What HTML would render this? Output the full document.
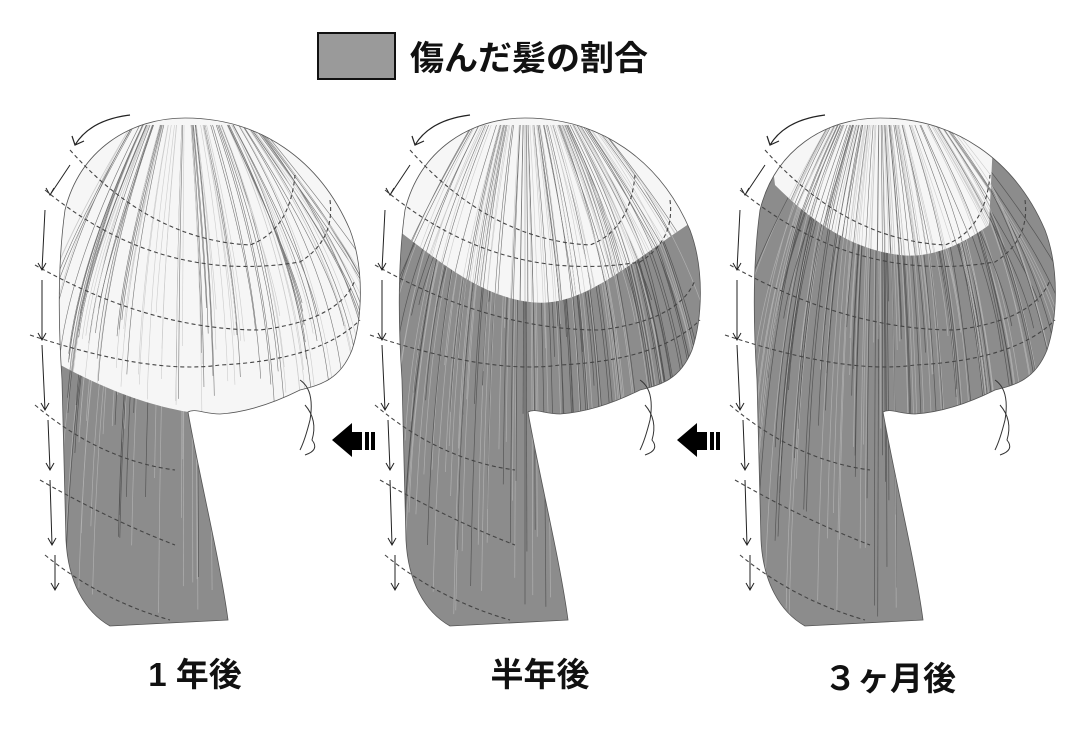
<!DOCTYPE html>
<html><head><meta charset="utf-8"><style>
html,body{margin:0;padding:0;background:#fff;}
body{width:1079px;height:743px;overflow:hidden;}
text{font-family:"Liberation Sans","Noto Sans CJK JP",sans-serif;font-weight:bold;}
</style></head><body>
<svg id="s" width="1079" height="743" viewBox="0 0 1079 743" xmlns="http://www.w3.org/2000/svg">
<defs>
<clipPath id="hc"><path id="hp" d="M65,210 C80,150 130,118 185,118 C260,118 320,160 350,230 C365,270 362,320 352,350 C340,380 320,385 300,390 C280,400 250,412 220,414 C205,414 195,408 188,412 C200,480 220,560 228,620 L110,626 C85,612 68,582 66,540 L62,380 C58,320 58,260 65,210 Z"/></clipPath>
<clipPath id="w1"><path d="M40,100 L380,100 L380,420 L220,416 C170,412 120,398 55,362 Z"/></clipPath>
<clipPath id="w2"><path d="M40,100 L380,100 L380,205 C300,250 250,310 190,302 C140,296 100,262 55,228 Z"/></clipPath>
<clipPath id="w3"><path d="M70,100 L300,100 L294,225 C260,250 230,258 205,255 C160,250 120,225 80,185 Z"/></clipPath>
</defs>
<rect x="318" y="33" width="77" height="46" fill="#9a9a9a" stroke="#111" stroke-width="2"/>
<text x="410" y="70" font-size="34" fill="#111">傷んだ髪の割合</text>
<g id="heads"></g>
<g fill="#000">
<polygon points="332,440 352,423 352,432 362,432 362,450 352,450 352,457"/>
<rect x="365" y="432" width="4" height="18"/><rect x="371" y="432" width="4" height="18"/>
<polygon points="677,440 697,423 697,432 707,432 707,450 697,450 697,457"/>
<rect x="710" y="432" width="4" height="18"/><rect x="716" y="432" width="4" height="18"/>
</g>
<text x="195" y="686" font-size="33" text-anchor="middle" fill="#111">1 年後</text>
<text x="540" y="686" font-size="33" text-anchor="middle" fill="#111">半年後</text>
<text x="890" y="690" font-size="33" text-anchor="middle" fill="#111">３ヶ月後</text>
</svg>
<script>
var NS="http://www.w3.org/2000/svg",H=document.getElementById("heads");
function el(t,a,p){var e=document.createElementNS(NS,t);for(var k in a)e.setAttribute(k,a[k]);(p||H).appendChild(e);return e;}
var offs=[0,340,695],wc=["w1","w2","w3"];
offs.forEach(function(o,i){
 var g=el("g",{transform:"translate("+o+",0)"});
 var c=el("g",{"clip-path":"url(#hc)"},g);
 el("rect",{x:0,y:100,width:400,height:540,fill:"#8c8c8c"},c);
 var seed=7+i;function r(){seed=(seed*9301+49297)%233280;return seed/233280;}
 for(var k=0;k<140;k++){var x=50+r()*320;el("path",{d:"M"+(185+(x-185)*0.4)+",125 Q"+x+",260 "+(x+(x-185)*0.1)+","+(300+r()*320),stroke:r()<0.5?"#555":"#b0b0b0","stroke-width":0.7,fill:"none"},c);}
 var w=el("g",{"clip-path":"url(#"+wc[i]+")"},c);
 el("rect",{x:0,y:100,width:400,height:540,fill:"#f6f6f6"},w);
 for(var k=0;k<110;k++){var x=50+r()*320;el("path",{d:"M"+(185+(x-185)*0.4)+",125 Q"+x+",260 "+(x+(x-185)*0.1)+","+(300+r()*120),stroke:r()<0.5?"#777":"#ccc","stroke-width":0.6,fill:"none"},w);}
 el("use",{href:"#hp",fill:"none",stroke:"#555","stroke-width":0.8},g);
 var dsh={fill:"none",stroke:"#444","stroke-width":1.1,"stroke-dasharray":"4 3"};
 [["M70,150 Q150,240 250,245 Q290,230 295,175"],["M45,190 Q160,285 300,262 Q335,240 330,200"],["M35,265 Q150,330 260,330 Q340,320 355,280"],["M30,335 Q150,375 220,365 Q320,360 360,320"],["M35,405 Q100,460 175,470"],["M40,480 Q110,520 175,545"],["M45,555 Q100,600 170,620"]].forEach(function(d){el("path",Object.assign({d:d[0]},dsh),g);});
 el("path",{d:"M130,115 Q90,120 75,145 M72,136 L75,145 L84,141",fill:"none",stroke:"#222","stroke-width":1.2},g);
 [[70,165,50,195],[45,210,42,270],[42,280,42,340],[42,345,45,410],[48,420,50,470],[50,480,52,545],[55,555,55,590]].forEach(function(a){el("path",{d:"M"+a[0]+","+a[1]+" L"+a[2]+","+a[3]+" M"+(a[2]-4)+","+(a[3]-7)+" L"+a[2]+","+a[3]+" L"+(a[2]+4)+","+(a[3]-7),fill:"none",stroke:"#222","stroke-width":1},g);});
 el("path",{d:"M300,380 Q315,390 310,420 Q305,440 300,450",fill:"none",stroke:"#333","stroke-width":1},g);
 el("path",{d:"M305,405 Q318,420 312,440 Q320,450 305,455",fill:"none",stroke:"#333","stroke-width":1},g);
});
</script>
</body></html>
